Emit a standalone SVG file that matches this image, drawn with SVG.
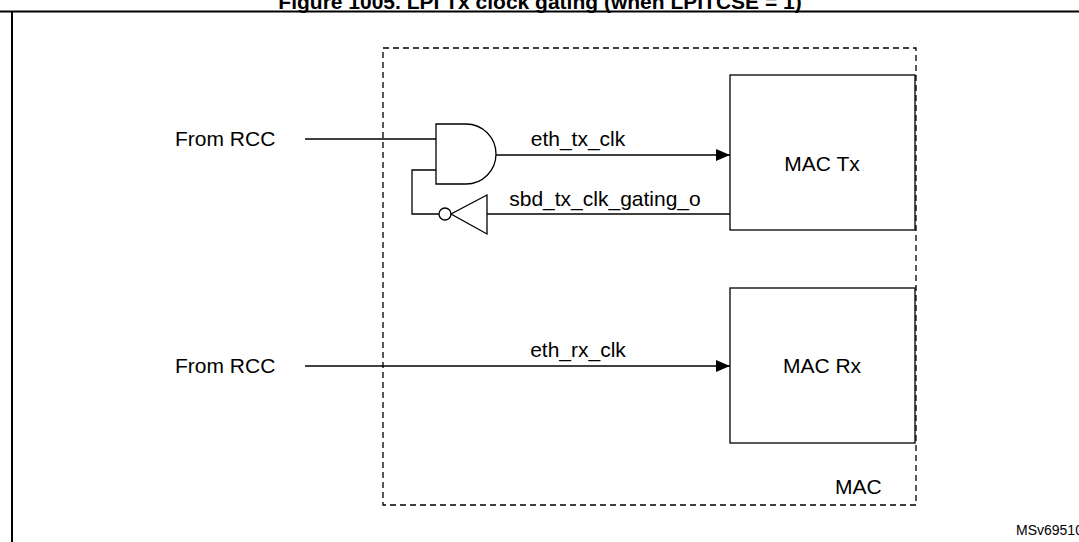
<svg xmlns="http://www.w3.org/2000/svg" width="1079" height="542" viewBox="0 0 1079 542">
<style>
text{font-family:"Liberation Sans",Arial,sans-serif;fill:#000}
.l{font-size:21px}
.s{stroke:#000;stroke-width:1.3;fill:none}
</style>
<defs><marker id="a" markerWidth="14" markerHeight="12" refX="14" refY="6" orient="auto" markerUnits="userSpaceOnUse"><path d="M0,0L14,6L0,12z" fill="#000"/></marker></defs>
<rect width="1079" height="542" fill="#fff"/>
<text x="540" y="9" text-anchor="middle" font-size="21" font-weight="bold">Figure 1005. LPI Tx clock gating (when LPITCSE = 1)</text>
<path d="M0,11.5H1079M12,11.5V542" stroke="#000" stroke-width="2"/>
<g id="mac"><rect x="383" y="48" width="533" height="457" class="s" stroke-dasharray="6,4"/><text x="835" y="494" class="l">MAC</text></g>
<g id="mactx"><rect x="730" y="75" width="185" height="155" class="s"/><text x="822" y="171" class="l" text-anchor="middle">MAC Tx</text></g>
<g id="macrx"><rect x="730" y="288" width="185" height="155" class="s"/><text x="822" y="373" class="l" text-anchor="middle">MAC Rx</text></g>
<g id="and"><path d="M436,124H466A30,30 0 0 1 466,184H436Z" class="s"/></g>
<g id="inv"><path d="M487,195L451,214L487,234Z" class="s"/><circle cx="445" cy="214" r="6" class="s"/></g>
<g id="rcc1"><text x="175" y="146" class="l">From RCC</text></g>
<g id="rcc2"><text x="175" y="373" class="l">From RCC</text></g>
<g id="connectors">
<path d="M305,139H436" class="s"/>
<path d="M496,155H730" class="s" marker-end="url(#a)"/>
<path d="M730,214H487" class="s"/>
<path d="M439,214H412V170H436" class="s"/>
<path d="M305,366H730" class="s" marker-end="url(#a)"/>
<text x="578" y="146" class="l" text-anchor="middle">eth_tx_clk</text>
<text x="605" y="206" class="l" text-anchor="middle">sbd_tx_clk_gating_o</text>
<text x="578" y="357" class="l" text-anchor="middle">eth_rx_clk</text>
</g>
<text x="1016" y="535" font-size="14">MSv69510V2</text>
</svg>
